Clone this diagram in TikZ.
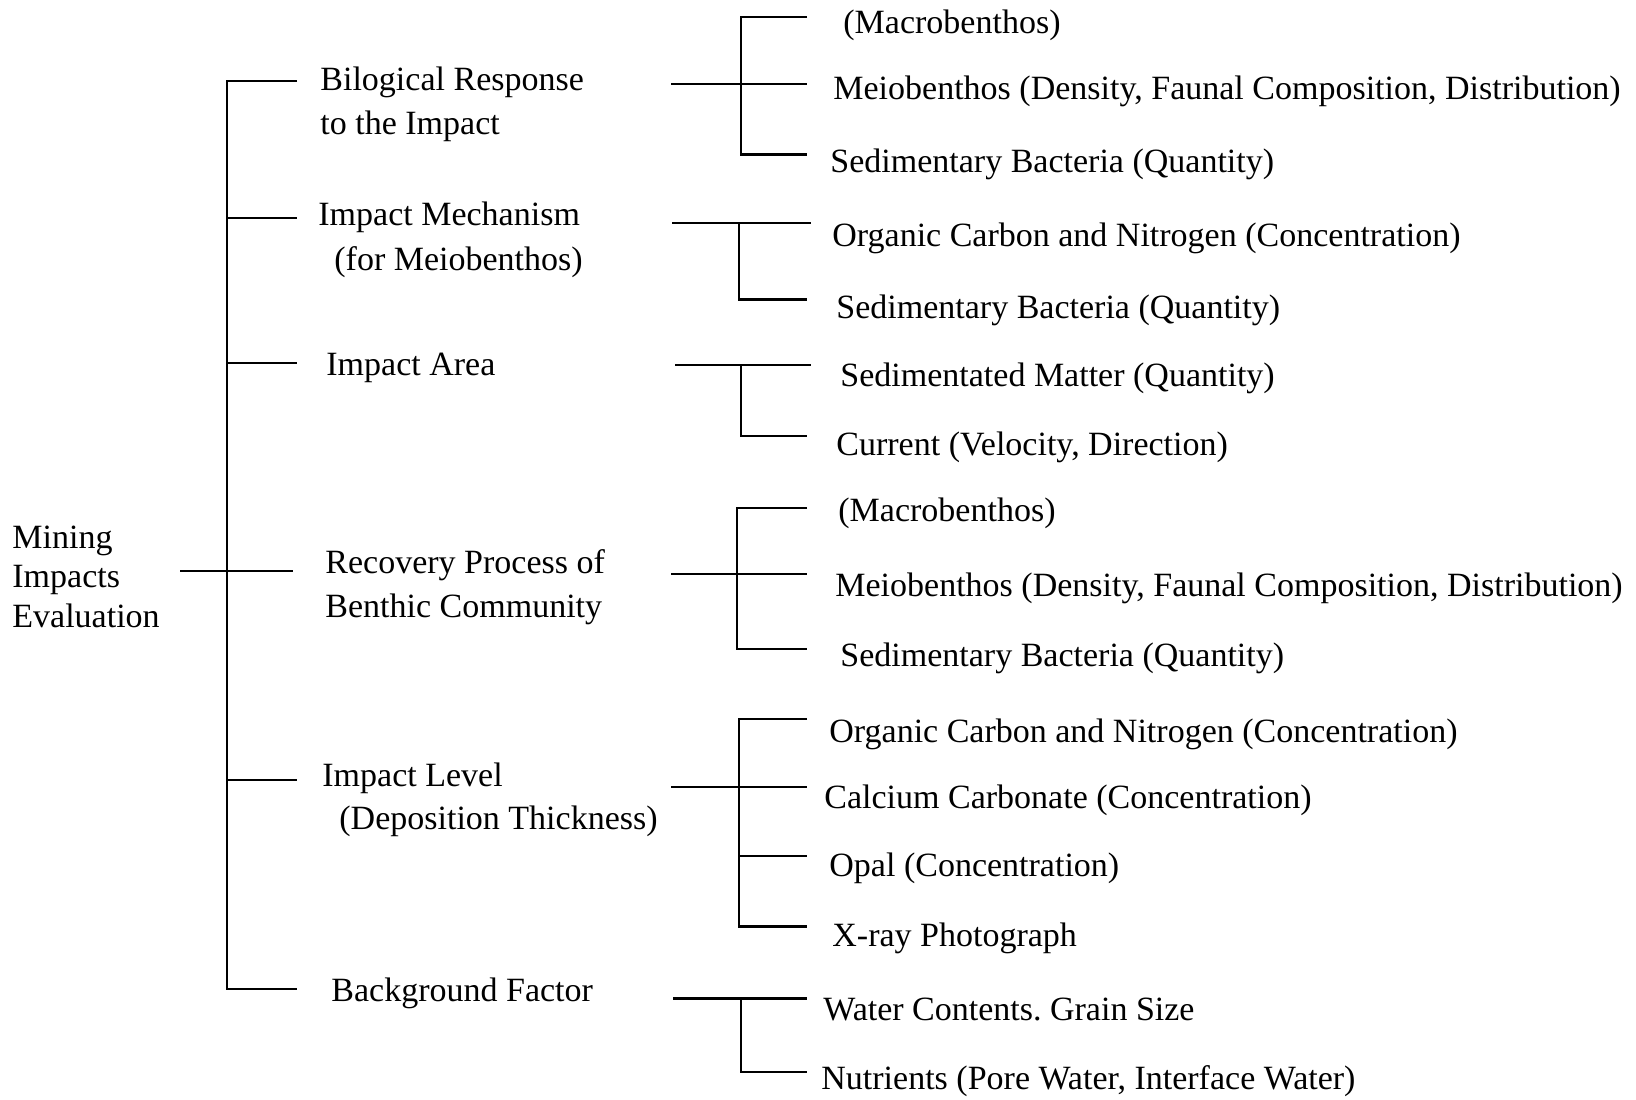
\documentclass[tikz,border=0pt]{standalone}
\usepackage{fontspec}
\setmainfont{Liberation Serif}
\frenchspacing
\begin{document}
\begin{tikzpicture}[x=0.5pt,y=-0.5pt,
  lbl/.style={inner sep=0pt, anchor=base west, font=\fontsize{17}{22}\selectfont},
  conn/.style={line width=1.1pt}]
\useasboundingbox (0,0) rectangle (1636,1099);

% ---------- texts ----------
\node[lbl] (root1) at (12,548.5) {Mining};
\node[lbl] (root2) at (12,587.5) {Impacts};
\node[lbl] (root3) at (12,627) {Evaluation};

\node[lbl] (bio)  at (320,90)  {Bilogical Response};
\node[lbl] (bio2) at (320,134) {to the Impact};
\node[lbl] (mech)  at (318,225) {Impact Mechanism};
\node[lbl] (mech2) at (334,270) {(for Meiobenthos)};
\node[lbl] (area)  at (326,375) {Impact Area};
\node[lbl] (rec)   at (325,573) {Recovery Process of};
\node[lbl] (rec2)  at (325,617) {Benthic Community};
\node[lbl] (lev)   at (322,786) {Impact Level};
\node[lbl] (lev2)  at (339,829) {(Deposition Thickness)};
\node[lbl] (bg)    at (331,1001) {Background Factor};

\node[lbl] (a1) at (843,33)  {(Macrobenthos)};
\node[lbl] (a2) at (833,99)  {Meiobenthos (Density, Faunal Composition, Distribution)};
\node[lbl] (a3) at (830,172) {Sedimentary Bacteria (Quantity)};
\node[lbl] (b1) at (832,246) {Organic Carbon and Nitrogen (Concentration)};
\node[lbl] (b2) at (836,318) {Sedimentary Bacteria (Quantity)};
\node[lbl] (c1) at (840,386) {Sedimentated Matter (Quantity)};
\node[lbl] (c2) at (836,455) {Current (Velocity, Direction)};
\node[lbl] (d1) at (838,521) {(Macrobenthos)};
\node[lbl] (d2) at (835,596) {Meiobenthos (Density, Faunal Composition, Distribution)};
\node[lbl] (d3) at (840,666) {Sedimentary Bacteria (Quantity)};
\node[lbl] (e1) at (829,742) {Organic Carbon and Nitrogen (Concentration)};
\node[lbl] (e2) at (824,808) {Calcium Carbonate (Concentration)};
\node[lbl] (e3) at (829,876) {Opal (Concentration)};
\node[lbl] (e4) at (832,946) {X-ray Photograph};
\node[lbl] (f1) at (823,1020) {Water Contents. Grain Size};
\node[lbl] (f2) at (821,1089) {Nutrients (Pore Water, Interface Water)};

% ---------- level 1 tree ----------
\coordinate (r0) at (180,571);
\coordinate (r1) at (293,571);
\coordinate (vt) at (227,81);
\coordinate (vb) at (227,989);
\coordinate (k1) at (297,81);
\coordinate (k2) at (297,218);
\coordinate (k3) at (297,363);
\coordinate (k5) at (297,780);
\coordinate (k6) at (297,989);

\draw[conn] (r0) -- (r1);
\draw[conn] (k1) -- (vt) -- (vb) -- (k6);
\draw[conn] (vt |- k2) -- (k2);
\draw[conn] (vt |- k3) -- (k3);
\draw[conn] (vt |- k5) -- (k5);

% ---------- level 2 brackets ----------
% group 1
\coordinate (s1) at (671,84);   \coordinate (j1) at (741,84);
\coordinate (t1a) at (807,16.7); \coordinate (t1b) at (807,84); \coordinate (t1c) at (807,154.4);
\draw[conn] (s1) -- (t1b);
\draw[conn] (t1a) -- (j1 |- t1a) -- (j1 |- t1c) -- (t1c);
% group 2
\coordinate (s2) at (672,223);  \coordinate (j2) at (739,223);
\coordinate (t2a) at (811,223); \coordinate (t2b) at (807,299.5);
\draw[conn] (s2) -- (t2a);
\draw[conn] (j2) -- (j2 |- t2b) -- (t2b);
% group 3
\coordinate (s3) at (675,365);  \coordinate (j3) at (741,365);
\coordinate (t3a) at (811,365); \coordinate (t3b) at (807,436);
\draw[conn] (s3) -- (t3a);
\draw[conn] (j3) -- (j3 |- t3b) -- (t3b);
% group 4
\coordinate (s4) at (671,574);  \coordinate (j4) at (737,574);
\coordinate (t4a) at (807,508); \coordinate (t4b) at (807,574); \coordinate (t4c) at (807,649);
\draw[conn] (s4) -- (t4b);
\draw[conn] (t4a) -- (j4 |- t4a) -- (j4 |- t4c) -- (t4c);
% group 5
\coordinate (s5) at (671,787);  \coordinate (j5) at (739,787);
\coordinate (t5a) at (807,719); \coordinate (t5b) at (807,787);
\coordinate (t5c) at (807,856); \coordinate (t5d) at (807,926.5);
\draw[conn] (s5) -- (t5b);
\draw[conn] (t5a) -- (j5 |- t5a) -- (j5 |- t5d) -- (t5d);
\draw[conn] (j5 |- t5c) -- (t5c);
% group 6
\coordinate (s6) at (673,998.5); \coordinate (j6) at (741,998.5);
\coordinate (t6a) at (807,998.5); \coordinate (t6b) at (807,1072);
\draw[conn] (s6) -- (t6a);
\draw[conn] (j6) -- (j6 |- t6b) -- (t6b);
\end{tikzpicture}
\end{document}
